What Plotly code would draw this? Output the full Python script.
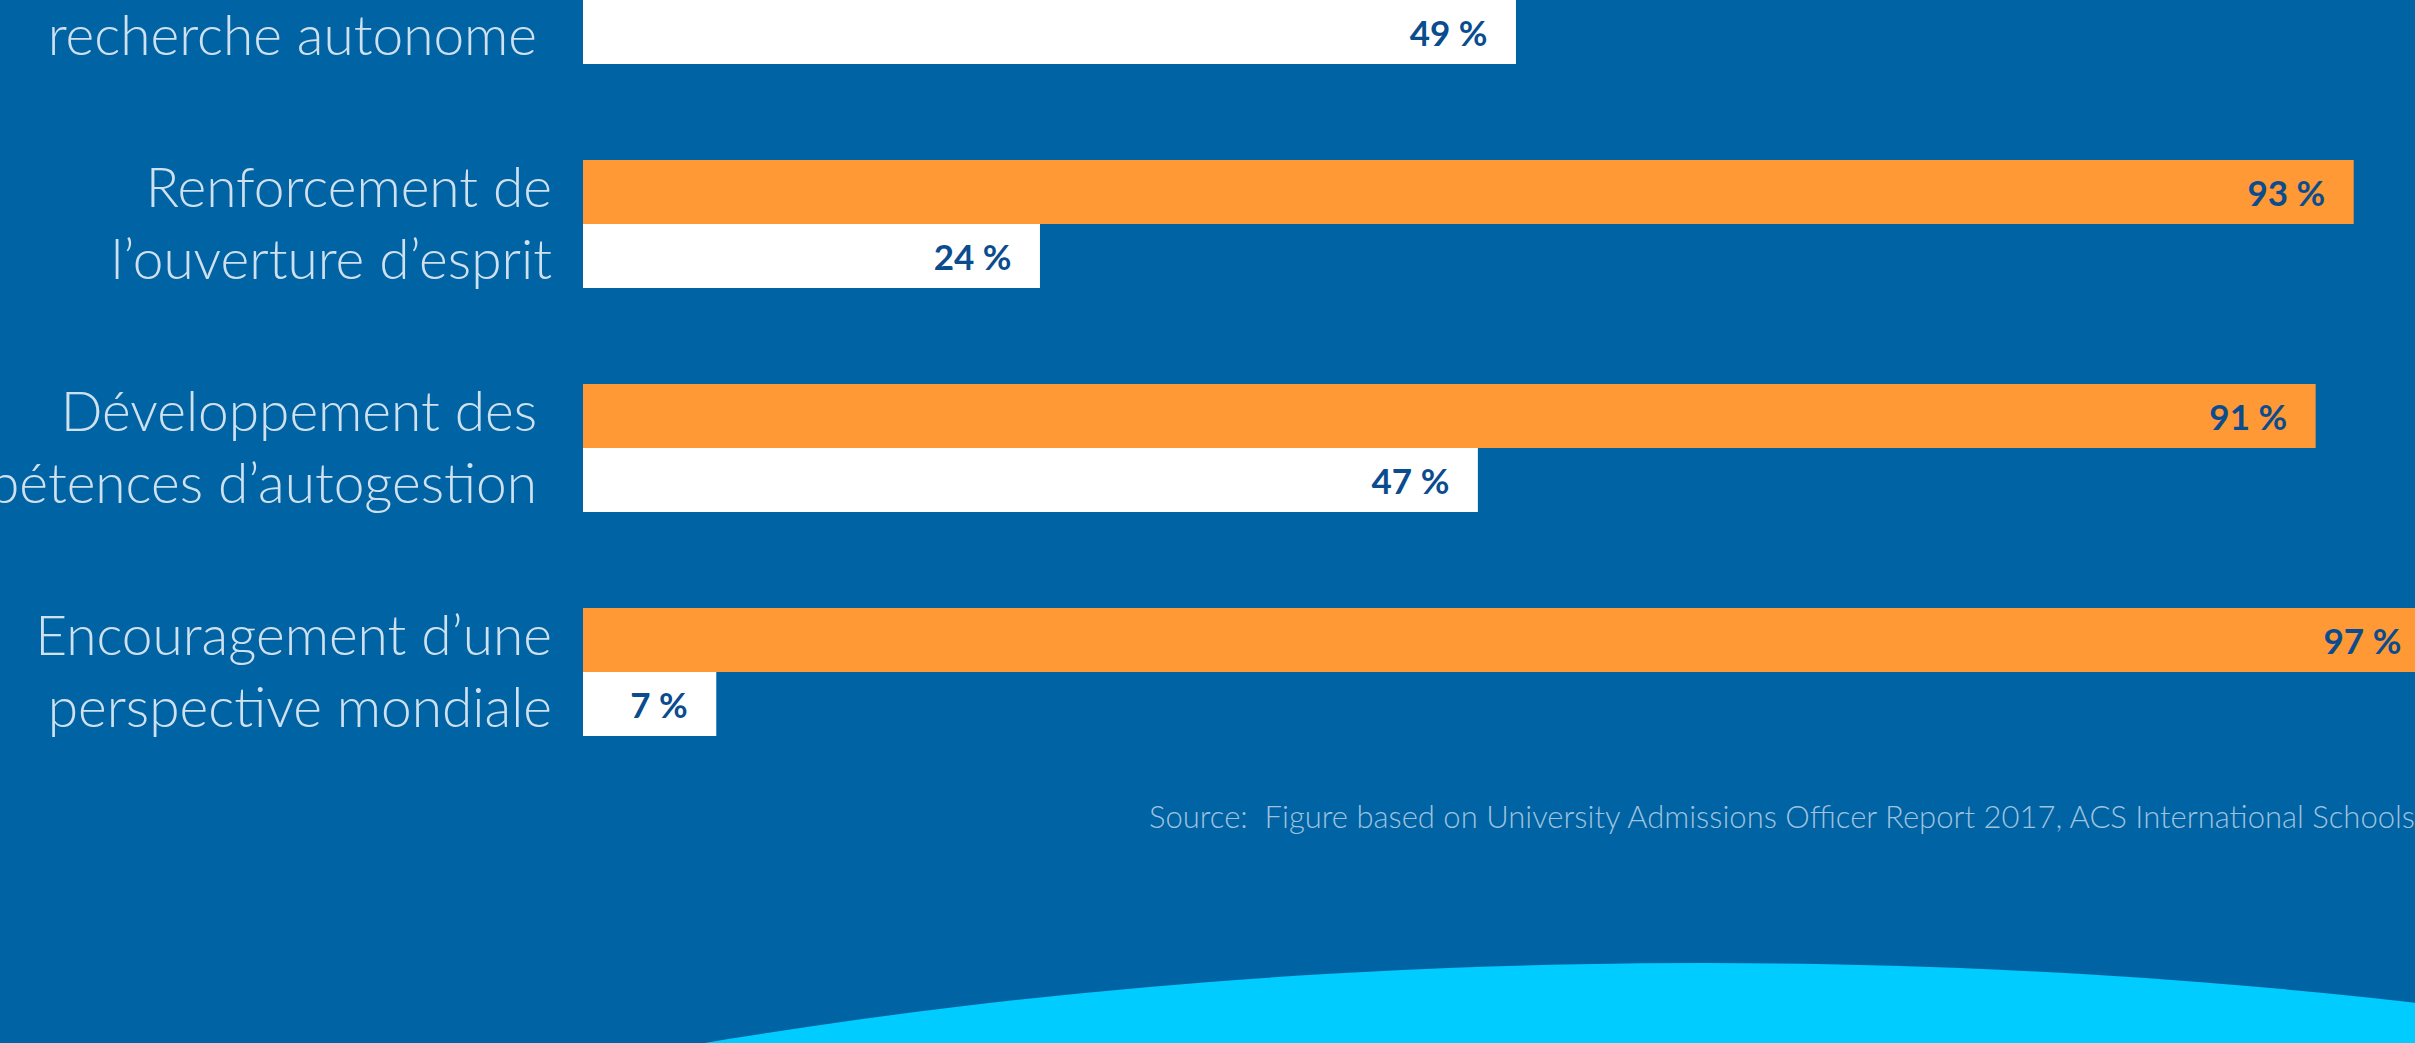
import plotly.graph_objects as go

# ---- data ----
categories = [
    "Acquisition de compétences de<br>recherche autonome\u00a0",
    "Renforcement de<br>l\u2019ouverture d\u2019esprit",
    "Développement des\u00a0<br>compétences d\u2019autogestion\u00a0",
    "Encouragement d\u2019une<br>perspective mondiale",
]
ib_values = [95, 93, 91, 97]        # orange series (first group's bar lies above the visible area)
other_values = [49, 24, 47, 7]      # white series
source_text = "Source:  Figure based on University Admissions Officer Report 2017, ACS International Schools"

BG = "#0063A3"
ORANGE = "#FE9935"
WHITE = "#FFFFFF"
VALUE_COLOR = "#0B4C8E"
LABEL_COLOR = "#CFE0EE"
SOURCE_COLOR = "#9FC2DF"
CYAN = "#00CCFF"

W, H = 2415, 1043
L = 583

pad = "\u00a0\u00a0\u00a0"
value_font = dict(family="Lato", size=35, color=VALUE_COLOR, weight=700)

fig = go.Figure()
fig.add_trace(go.Bar(
    y=categories, x=ib_values, orientation="h",
    marker=dict(color=ORANGE, line=dict(width=0)),
    text=[f"{v} %{pad}" for v in ib_values],
    textposition="inside", insidetextanchor="end",
    textfont=value_font, insidetextfont=value_font,
    showlegend=False, hoverinfo="skip",
))
fig.add_trace(go.Bar(
    y=categories, x=other_values, orientation="h",
    marker=dict(color=WHITE, line=dict(width=0)),
    text=[f"{v} %{pad}" for v in other_values],
    textposition="inside", insidetextanchor="end",
    textfont=value_font, insidetextfont=value_font,
    showlegend=False, hoverinfo="skip",
))

px_per_unit = 19.04
xmax = (W - L) / px_per_unit
group_px = 224.0
top_v = 0.0003
bottom_v = top_v + H / group_px

fig.update_layout(
    width=W, height=H,
    margin=dict(l=L, r=0, t=0, b=0, pad=0),
    paper_bgcolor=BG, plot_bgcolor="rgba(0,0,0,0)",
    barmode="group", bargap=0.4286, bargroupgap=0,
    uniformtext=dict(mode=False),
    xaxis=dict(range=[0, xmax], visible=False, fixedrange=True),
    yaxis=dict(
        type="category", range=[bottom_v, top_v], autorange=False,
        showgrid=False, zeroline=False, showline=False, ticks="",
        ticklabelstandoff=30, automargin=False,
        tickfont=dict(family="Lato", size=55, color=LABEL_COLOR, weight=300),
        fixedrange=True,
    ),
    shapes=[dict(
        type="circle", xref="paper", yref="paper",
        x0=(-846 - L) / (W - L), x1=(4254 - L) / (W - L),
        y0=(H - 2963) / H, y1=(H - 963) / H,
        fillcolor=CYAN, line=dict(width=0), layer="above",
    )],
    annotations=[dict(
        text=source_text, xref="paper", yref="paper",
        x=(1147 - L) / (W - L), y=(H - 816) / H,
        xanchor="left", yanchor="middle", showarrow=False,
        font=dict(family="Lato", size=31, color=SOURCE_COLOR, weight=300),
    )],
)

fig.write_html(
    "out.html",
    config={"displayModeBar": False},
    post_script="document.body.style.margin='0';document.body.style.padding='0';"
                "document.body.style.overflow='hidden';document.body.style.background='" + BG + "';",
)
